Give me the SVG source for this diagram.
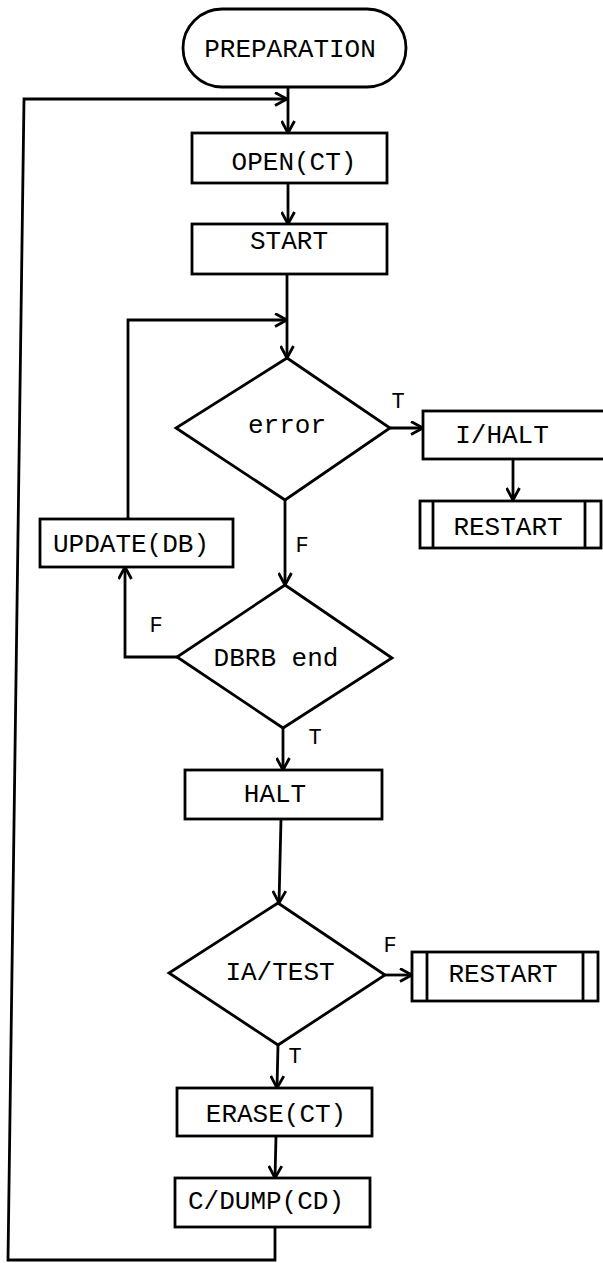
<svg xmlns="http://www.w3.org/2000/svg" width="603" height="1263" viewBox="0 0 603 1263">
<style>
.s{fill:#fff;stroke:#000;stroke-width:2.8}
.t{font-family:"Liberation Mono","Courier New",monospace;font-size:26px;fill:#000;text-anchor:middle}
.l{font-family:"Liberation Mono","Courier New",monospace;font-size:22px;fill:#000;text-anchor:middle}
.c{fill:none;stroke:#000;stroke-width:2.8}
</style>
<defs>
<marker id="a" viewBox="0 0 14 15" refX="13" refY="7.5" markerWidth="14" markerHeight="15" markerUnits="userSpaceOnUse" orient="auto">
<path d="M1,1 L13,7.5 L1,14" fill="none" stroke="#000" stroke-width="2.8"/>
</marker>
</defs>
<rect width="603" height="1263" fill="#fff"/>
<g id="connectors">
<line class="c" x1="288" y1="87" x2="288" y2="133" marker-end="url(#a)"/>
<polyline class="c" points="275,1227 275,1260 8,1260 24,99 287,99" marker-end="url(#a)"/>
<line class="c" x1="288" y1="183" x2="288" y2="224" marker-end="url(#a)"/>
<line class="c" x1="287" y1="274" x2="287" y2="358" marker-end="url(#a)"/>
<polyline class="c" points="128,519 128,320 287,320" marker-end="url(#a)"/>
<line class="c" x1="390" y1="428" x2="423" y2="428" marker-end="url(#a)"/>
<line class="c" x1="513" y1="459" x2="513" y2="500" marker-end="url(#a)"/>
<line class="c" x1="285" y1="500" x2="285" y2="585" marker-end="url(#a)"/>
<polyline class="c" points="177,657 125,657 125,567" marker-end="url(#a)"/>
<line class="c" x1="283" y1="728" x2="283" y2="770" marker-end="url(#a)"/>
<line class="c" x1="281" y1="819" x2="279" y2="903" marker-end="url(#a)"/>
<line class="c" x1="385" y1="975" x2="412" y2="975" marker-end="url(#a)"/>
<line class="c" x1="278" y1="1045" x2="277" y2="1088" marker-end="url(#a)"/>
<line class="c" x1="276" y1="1136" x2="275" y2="1178" marker-end="url(#a)"/>
<text class="l" x="398" y="408">T</text>
<text class="l" x="302" y="552">F</text>
<text class="l" x="156" y="632">F</text>
<text class="l" x="315" y="744">T</text>
<text class="l" x="390" y="952">F</text>
<text class="l" x="295" y="1063">T</text>
</g>
<g id="preparation">
<rect class="s" x="183" y="9" width="223" height="78" rx="39"/>
<text class="t" x="290" y="57">PREPARATION</text>
</g>
<g id="open">
<rect class="s" x="192" y="133" width="195" height="50"/>
<text class="t" x="294" y="170">OPEN(CT)</text>
</g>
<g id="start">
<rect class="s" x="192" y="224" width="195" height="50"/>
<text class="t" x="289" y="249">START</text>
</g>
<g id="error">
<polygon class="s" points="287,358 390,428 285,500 176,428"/>
<text class="t" x="287" y="433">error</text>
</g>
<g id="ihalt">
<rect class="s" x="423" y="411" width="185" height="48"/>
<text class="t" x="502" y="443">I/HALT</text>
</g>
<g id="restart1">
<rect class="s" x="420" y="501" width="181" height="47"/>
<line class="c" x1="433" y1="501" x2="433" y2="548"/>
<line class="c" x1="585" y1="501" x2="585" y2="548"/>
<text class="t" x="508" y="535">RESTART</text>
</g>
<g id="update">
<rect class="s" x="40" y="519" width="193" height="48"/>
<text class="t" x="131" y="552">UPDATE(DB)</text>
</g>
<g id="dbrb">
<polygon class="s" points="285,585 392,658 283,728 177,657"/>
<text class="t" x="276" y="666">DBRB end</text>
</g>
<g id="halt">
<rect class="s" x="185" y="770" width="197" height="49"/>
<text class="t" x="275" y="802">HALT</text>
</g>
<g id="iatest">
<polygon class="s" points="278,903 385,975 278,1045 169,973"/>
<text class="t" x="280" y="980">IA/TEST</text>
</g>
<g id="restart2">
<rect class="s" x="412" y="952" width="186" height="49"/>
<line class="c" x1="427" y1="952" x2="427" y2="1001"/>
<line class="c" x1="583" y1="952" x2="583" y2="1001"/>
<text class="t" x="503" y="982">RESTART</text>
</g>
<g id="erase">
<rect class="s" x="177" y="1088" width="195" height="48"/>
<text class="t" x="276" y="1122">ERASE(CT)</text>
</g>
<g id="cdump">
<rect class="s" x="175" y="1178" width="195" height="49"/>
<text class="t" x="266" y="1209">C/DUMP(CD)</text>
</g>
</svg>
